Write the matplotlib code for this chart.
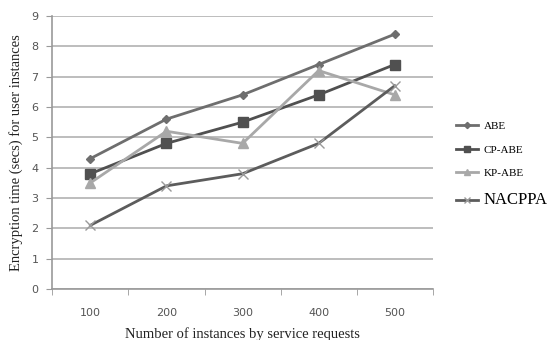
import matplotlib
matplotlib.use("Agg")
import matplotlib.pyplot as plt
import numpy as np

# Encryption time per scheme, by number of instances
INSTANCES = ["100", "200", "300", "400", "500"]
ABE = [4.3, 5.6, 6.4, 7.4, 8.4]
CP_ABE = [3.8, 4.8, 5.5, 6.4, 7.4]
KP_ABE = [3.5, 5.2, 4.8, 7.2, 6.4]
NACPPA = [2.1, 3.4, 3.8, 4.8, 6.7]
Y_TICKS = list(range(0, 10))

SERIF = ["Liberation Serif", "DejaVu Serif"]

fig = plt.figure(figsize=(5.57, 3.4), dpi=100)
ax = fig.add_axes([0.094, 0.15, 0.683, 0.803])

x = np.arange(len(INSTANCES))
ax.plot(x, ABE, color="#6e6e6e", lw=2, marker="D", ms=4.5, label="ABE")
ax.plot(x, CP_ABE, color="#505050", lw=2, marker="s", ms=6.5, label="CP-ABE")
ax.plot(x, KP_ABE, color="#a8a8a8", lw=2, marker="^", ms=6.5, label="KP-ABE")
ax.plot(x, NACPPA, color="#5c5c5c", lw=2, marker="x", ms=7, mew=1.0,
        mec="#9a9a9a", label="NACPPA")

ax.set_xlim(-0.5, len(INSTANCES) - 0.5)
ax.set_ylim(0, 9)
ax.set_yticks(Y_TICKS)
ax.set_xticks(x)
ax.set_xticklabels(INSTANCES)
ax.set_xticks(np.arange(-0.5, len(INSTANCES)), minor=True)
ax.tick_params(axis="x", which="major", length=0, pad=14,
               labelsize=8, labelcolor="#555555")
ax.tick_params(axis="x", which="minor", length=4, color="#999999", direction="out")
ax.tick_params(axis="y", length=4, color="#999999", labelsize=8,
               labelcolor="#555555", pad=6)

ax.grid(axis="y", color="#bdbdbd", lw=1.4)
ax.set_axisbelow(True)
for side in ("top", "right"):
    ax.spines[side].set_visible(False)
for side in ("left", "bottom"):
    ax.spines[side].set_color("#999999")
    ax.spines[side].set_linewidth(1.2)

ax.set_xlabel("Number of instances by service requests", family=SERIF,
              fontsize=10.5, color="#222222", labelpad=6)
ax.set_ylabel("Encryption time (secs) for user instances", family=SERIF,
              fontsize=10.5, color="#222222", labelpad=6)

leg = ax.legend(loc="center left", bbox_to_anchor=(1.035, 0.455), frameon=False,
                prop={"family": SERIF, "size": 8}, handlelength=2.0,
                labelspacing=1.25, handletextpad=0.5, markerscale=0.7)
leg.get_texts()[-1].set_fontsize(12)

fig.savefig("out.png", dpi=100)
